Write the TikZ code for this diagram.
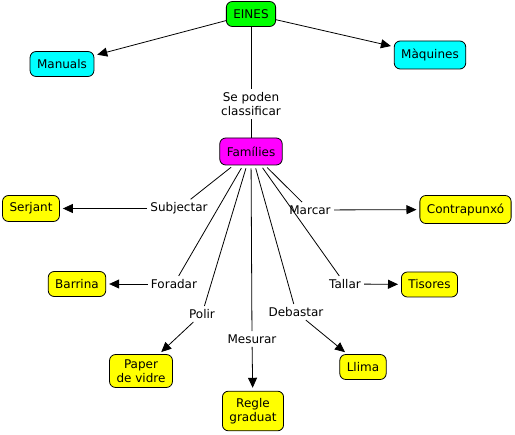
\documentclass[tikz,border=0pt]{standalone}
\usepackage{fontspec}
\setmainfont{DejaVu Sans}
\usetikzlibrary{arrows.meta, positioning}

\definecolor{einesgreen}{RGB}{0,255,0}
\definecolor{classcyan}{RGB}{0,255,255}
\definecolor{fammagenta}{RGB}{255,0,255}
\definecolor{toolyellow}{RGB}{255,255,0}

\begin{document}
\begin{tikzpicture}[
    x=1pt, y=-1pt,
    font=\fontsize{12}{14}\selectfont,
    line width=0.8pt,
    box/.style={draw, rounded corners=6pt, align=center, inner xsep=7pt, inner ysep=5pt, minimum height=25pt},
    link/.style={fill=white, inner sep=3pt, align=center},
    plain/.style={shorten <=3pt},
    arrow/.style={-{Triangle[length=10pt, width=9pt]}, shorten >=3pt}
]
\useasboundingbox (0,0) rectangle (515,435);

% Nodes
\node[box, fill=einesgreen] (eines) at (251,14) {EINES};
\node[box, fill=classcyan] (manuals) at (62,64) {Manuals};
\node[box, fill=classcyan, minimum height=28pt] (maquines) at (430,55) {Màquines};
\node[box, fill=fammagenta, minimum height=27pt] (families) at (251,151.5) {Famílies};

\node[box, fill=toolyellow, minimum height=26pt] (serjant) at (31,208.5) {Serjant};
\node[box, fill=toolyellow, minimum height=28pt] (contra) at (465.5,209.5) {Contrapunxó};
\node[box, fill=toolyellow] (barrina) at (77,284) {Barrina};
\node[box, fill=toolyellow] (tisores) at (429.5,284.5) {Tisores};
\node[box, fill=toolyellow] (paper) at (141,371) {Paper\\de vidre};
\node[box, fill=toolyellow, inner ysep=7pt] (regle) at (253,411) {Regle\\graduat};
\node[box, fill=toolyellow] (llima) at (363,367) {Llima};

% Linking phrases
\node[link] (classif) at (251,104) {Se poden\\classificar};
\node[link] (subj) at (179,208.5) {Subjectar};
\node[link] (marcar) at (310,210) {Marcar};
\node[link] (forad) at (174,284) {Foradar};
\node[link] (tallar) at (345,284) {Tallar};
\node[link] (polir) at (202,314) {Polir};
\node[link] (debast) at (296,312) {Debastar};
\node[link] (mesurar) at (252,339) {Mesurar};

% Arrows
\draw[arrow] (eines) -- (manuals);
\draw[arrow] (eines) -- (maquines);
\draw (eines) -- (classif);
\draw (classif) -- (families);

\draw[plain] (families) -- (subj);
\draw[arrow] (subj) -- (serjant);
\draw[plain] (families) -- (marcar);
\draw[arrow] (marcar) -- (contra);
\draw[plain] (families) -- (forad);
\draw[arrow] (forad) -- (barrina);
\draw[plain] (families) -- (tallar);
\draw[arrow] (tallar) -- (tisores);
\draw[plain] (families) -- (polir);
\draw[arrow] (polir) -- (paper);
\draw[plain] (families) -- (debast);
\draw[arrow] (debast) -- (llima);
\draw[plain] (families) -- (mesurar);
\draw[arrow] (mesurar) -- (regle);
\end{tikzpicture}
\end{document}
